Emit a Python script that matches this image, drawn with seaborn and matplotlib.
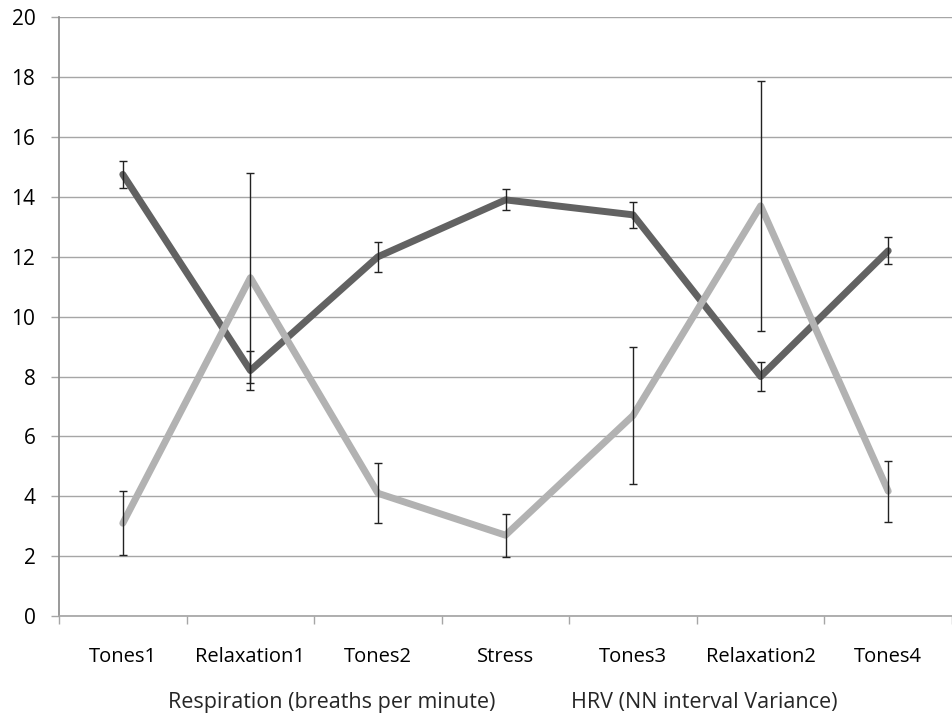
import pandas as pd
import matplotlib.pyplot as plt
import seaborn as sns
from matplotlib.lines import Line2D

phases = ['Tones1', 'Relaxation1', 'Tones2', 'Stress', 'Tones3', 'Relaxation2', 'Tones4']
resp_mean = [14.75, 8.2, 12.0, 13.9, 13.4, 8.0, 12.2]
resp_err = [0.45, 0.65, 0.5, 0.35, 0.43, 0.5, 0.45]
hrv_mean = [3.1, 11.3, 4.1, 2.7, 6.7, 13.7, 4.17]
hrv_err = [1.07, 3.5, 1.0, 0.72, 2.3, 4.17, 1.02]

resp_label = 'Respiration (breaths per minute)'
hrv_label = 'HRV (NN interval Variance)'

sns.set_theme(style='white')
plt.rcParams['font.family'] = ['Open Sans', 'DejaVu Sans']

df = pd.DataFrame({
    'Phase': phases * 2,
    'Value': resp_mean + hrv_mean,
    'Series': [resp_label] * 7 + [hrv_label] * 7,
})
df['x'] = list(range(7)) * 2

fig = plt.figure(figsize=(9.52, 7.18), dpi=100)
ax = fig.add_axes([0.062, 0.142, 0.938, 0.834])

colors = {resp_label: '#626262', hrv_label: '#b2b2b2'}
sns.lineplot(data=df, x='x', y='Value', hue='Series', palette=colors,
             linewidth=5, legend=False, ax=ax, zorder=3)

for mean, err in [(resp_mean, resp_err), (hrv_mean, hrv_err)]:
    ax.errorbar(range(7), mean, yerr=err, fmt='none', ecolor='#222222',
                elinewidth=1, capsize=3, capthick=1, zorder=4)

ax.set_xlim(-0.5, 6.44)
ax.set_ylim(0, 20)
ax.set_yticks(range(0, 21, 2))
ax.yaxis.grid(True, color='#a6a6a6', linewidth=1)
ax.set_axisbelow(True)
for s in ['top', 'right']:
    ax.spines[s].set_visible(False)
ax.spines['left'].set_color('#8c8c8c')
ax.spines['bottom'].set_color('#a6a6a6')

ax.set_xticks(range(7))
ax.set_xticklabels(phases)
ax.set_xticks([i - 0.5 for i in range(8)], minor=True)
ax.tick_params(axis='x', which='major', length=0, pad=22, labelsize=14.5, colors='black')
ax.tick_params(axis='x', which='minor', bottom=True, length=6, width=1, color='#a6a6a6')
ax.tick_params(axis='y', left=True, length=6, width=1, color='#a6a6a6', pad=11,
               labelsize=15)
for t in ax.get_yticklabels():
    t.set_color('black')
ax.set_xlabel('')
ax.set_ylabel('')

handles = [Line2D([], [], linestyle='none'), Line2D([], [], linestyle='none')]
fig.legend(handles, [resp_label, hrv_label], loc='center', ncol=2,
           bbox_to_anchor=(0.528, 0.022), frameon=False, handlelength=0,
           handletextpad=0, columnspacing=3.5, fontsize=15.5)

fig.savefig('out.png', dpi=100)
